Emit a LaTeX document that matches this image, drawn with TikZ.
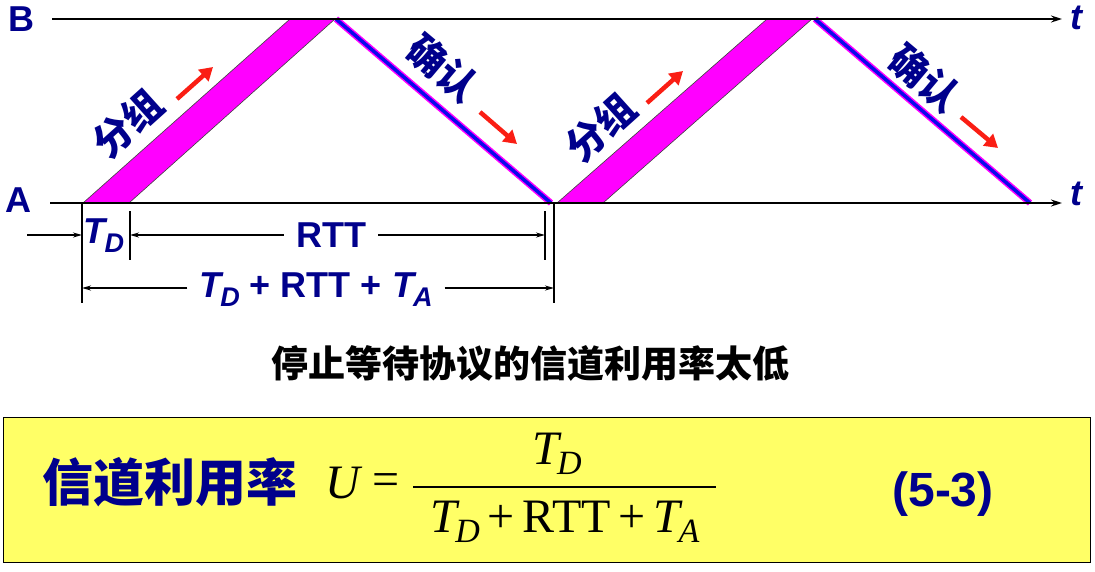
\documentclass[tikz,border=0pt]{standalone}
\usepackage{fontspec}
\setmainfont{Liberation Sans}
\newfontfamily\cjk{Noto Sans CJK SC}
\newfontfamily\serif{Liberation Serif}
\usetikzlibrary{arrows.meta}
\definecolor{navy}{RGB}{0,0,140}
\definecolor{mag}{RGB}{255,0,255}
\definecolor{ylw}{RGB}{255,255,102}
\definecolor{ackblue}{RGB}{10,10,235}
\definecolor{redarr}{RGB}{250,30,20}
\begin{document}
\begin{tikzpicture}[x=1pt,y=-1pt,
  axis/.style={line width=1.6pt,-{Stealth[length=11pt,width=7pt]}},
  lbl/.style={font=\fontsize{36}{40}\selectfont\bfseries,text=navy,inner sep=0pt},
  tlbl/.style={font=\fontsize{36}{40}\selectfont\bfseries\itshape,text=navy,inner sep=0pt},
  cjklbl/.style={font=\cjk\bfseries\fontsize{39}{42}\selectfont,text=navy,inner sep=0pt},
  packet/.style={fill=mag,draw=black!75,line width=0.6pt},
  ackouter/.style={draw=mag,line width=6.5pt},
  ackinner/.style={draw=ackblue,line width=3.5pt},
  redarrow/.style={draw=redarr,line width=4.5pt,-{Triangle[length=13pt,width=15pt]}},
  dim/.style={line width=1.3pt,-{Stealth[length=9pt,width=5pt]}},
  tick/.style={line width=1.3pt}]
\useasboundingbox (0,0) rectangle (1095,571);

% axes
\node[lbl] (B) at (21,19) {B};
\node[lbl] (A) at (18,200) {A};
\node[tlbl] (tB) at (1076,18) {t};
\node[tlbl] (tA) at (1076,194) {t};
\coordinate (Bs) at (52,19);  \coordinate (Be) at (1062,19);
\coordinate (As) at (50,203); \coordinate (Ae) at (1062,203);

% acks
\coordinate (k1s) at (336,19); \coordinate (k1e) at (551,203);
\coordinate (k2s) at (815,19); \coordinate (k2e) at (1030,203);
\draw[ackouter] (k1s) -- (k1e);
\draw[ackinner] (k1s) -- (k1e);
\draw[ackouter] (k2s) -- (k2e);
\draw[ackinner] (k2s) -- (k2e);

% packets
\draw[packet] (83,203) -- (129,203) -- (335,19) -- (290,19) -- cycle;
\draw[packet] (557,203) -- (603,203) -- (812,19) -- (767,19) -- cycle;

\draw[axis] (Bs) -- (Be);
\draw[axis] (As) -- (Ae);

% labels
\node[cjklbl,rotate=42] (p1) at (128,123) {分组};
\node[cjklbl,rotate=42] (p2) at (601,127) {分组};
\node[cjklbl,rotate=-40] (a1) at (443,68) {确认};
\node[cjklbl,rotate=-40] (a2) at (925,78) {确认};
\coordinate (r1s) at (177,99);  \coordinate (r1e) at (213,67);
\coordinate (r2s) at (480,112); \coordinate (r2e) at (517,144);
\coordinate (r3s) at (647,103); \coordinate (r3e) at (683,71);
\coordinate (r4s) at (961,117); \coordinate (r4e) at (998,148);
\draw[redarrow] (r1s) -- (r1e);
\draw[redarrow] (r2s) -- (r2e);
\draw[redarrow] (r3s) -- (r3e);
\draw[redarrow] (r4s) -- (r4e);

% dimension lines
\coordinate (v1t) at (82,203);  \coordinate (v1b) at (82,303);
\coordinate (v2t) at (130,211); \coordinate (v2b) at (130,260);
\coordinate (v3t) at (545,211); \coordinate (v3b) at (545,260);
\coordinate (v4t) at (554,203); \coordinate (v4b) at (554,303);
\draw[tick] (v1t) -- (v1b);
\draw[tick] (v2t) -- (v2b);
\draw[tick] (v3t) -- (v3b);
\draw[tick] (v4t) -- (v4b);

\node[tlbl] (td) at (104,236) {T\kern-1pt\raisebox{-9pt}{\fontsize{27}{27}\selectfont D}};
\node[lbl] (rtt) at (331,235) {RTT};
\node[lbl] (sum) at (316,290) {{\itshape T\kern-1pt\raisebox{-9pt}{\fontsize{27}{27}\selectfont D}} + RTT + {\itshape T\kern-1pt\raisebox{-9pt}{\fontsize{27}{27}\selectfont A}}};
\coordinate (in0) at (27,235);
\draw[dim] (in0) -- (82,235);
\draw[dim] ([xshift=-12pt]rtt.west |- 0,235) -- (130,235);
\draw[dim] ([xshift=12pt]rtt.east |- 0,235) -- (545,235);
\draw[dim] ([xshift=-12pt]sum.west |- 0,288) -- (82,288);
\draw[dim] ([xshift=12pt]sum.east |- 0,288) -- (554,288);

% caption
\node[font=\cjk\bfseries\fontsize{37}{40}\selectfont,inner sep=0pt] (cap) at (530,364) {停止等待协议的信道利用率太低};

% formula box
\node[draw=black,line width=1pt,fill=ylw,minimum width=1087pt,minimum height=145pt,inner sep=0pt] (box) at (546.5,490) {};
\node[cjklbl,font=\cjk\bfseries\fontsize{51}{54}\selectfont] (ul) at (170,482) {信道利用率};
\node[font=\serif\itshape\fontsize{48}{50}\selectfont,inner sep=0pt] (U) at (343,483) {U};
\node[font=\serif\fontsize{48}{50}\selectfont,inner sep=0pt] (eq) at (386,485) {=};
\coordinate (bl) at (413,487); \coordinate (br) at (716,487);
\draw[line width=1.5pt] (bl) -- (br);
\node[font=\serif\fontsize{48}{50}\selectfont,inner sep=0pt] (num) at (557,454) {\itshape T\kern-2pt\raisebox{-10pt}{\fontsize{34}{34}\selectfont D}};
\node[font=\serif\fontsize{48}{50}\selectfont,inner sep=0pt] (den) at (565,522) {{\itshape T\kern-2pt\raisebox{-10pt}{\fontsize{34}{34}\selectfont D}}\,+\,RTT\,+\,{\itshape T\kern-2pt\raisebox{-10pt}{\fontsize{34}{34}\selectfont A}}};
\node[lbl,font=\fontsize{48}{52}\selectfont\bfseries] (eqno) at (943,494) {(5-3)};
\end{tikzpicture}
\end{document}
